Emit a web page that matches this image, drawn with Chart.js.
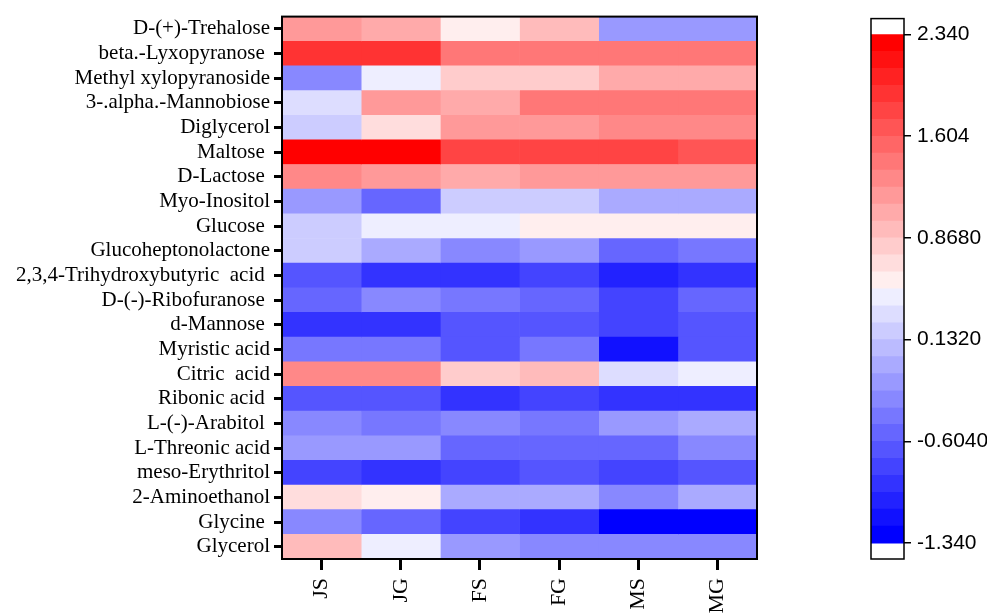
<!DOCTYPE html>
<html>
<head>
<meta charset="utf-8">
<script src="https://cdn.jsdelivr.net/npm/chart.js@4.4.1/dist/chart.umd.min.js"></script>
<style>
  body { margin: 0; background: #fff; }
  #wrap { position: relative; width: 987px; height: 613px; }
  #main { position: absolute; left: 0; top: 0; width: 987px; height: 613px; }
  #bar { position: absolute; left: 860px; top: 0; width: 127px; height: 613px; }
</style>
</head>
<body>
<div id="wrap">
  <div id="main"><canvas id="heat"></canvas></div>
  <div id="bar"><canvas id="scale"></canvas></div>
</div>
<script>
// row names (top to bottom) and sample columns
const rows = [
  "D-(+)-Trehalose", "beta.-Lyxopyranose ", "Methyl xylopyranoside", "3-.alpha.-Mannobiose",
  "Diglycerol", "Maltose ", "D-Lactose ", "Myo-Inositol", "Glucose ", "Glucoheptonolactone",
  "2,3,4-Trihydroxybutyric  acid ", "D-(-)-Ribofuranose ", "d-Mannose ", "Myristic acid",
  "Citric  acid", "Ribonic acid ", "L-(-)-Arabitol ", "L-Threonic acid", "meso-Erythritol",
  "2-Aminoethanol", "Glycine ", "Glycerol"
];
const columns = ["JS", "JG", "FS", "FG", "MS", "MG"];

// values per column, same order as rows
const JS = [1.18, 1.91, -0.30, 0.32, 0.19, 2.28, 1.30, -0.17, 0.19, 0.19, -0.66, -0.54, -0.91, -0.42, 1.30, -0.66, -0.30, -0.17, -0.79, 0.68, -0.30, 0.93];
const JG = [1.05, 1.91, 0.44, 1.18, 0.68, 2.28, 1.18, -0.54, 0.44, -0.05, -0.91, -0.30, -0.91, -0.42, 1.30, -0.66, -0.42, -0.17, -0.91, 0.56, -0.54, 0.44];
const FS = [0.56, 1.42, 0.81, 1.05, 1.18, 1.79, 1.05, 0.19, 0.44, -0.30, -0.91, -0.42, -0.66, -0.66, 0.81, -0.91, -0.30, -0.54, -0.79, -0.05, -0.79, -0.17];
const FG = [0.93, 1.42, 0.81, 1.42, 1.18, 1.79, 1.18, 0.19, 0.56, -0.17, -0.79, -0.54, -0.66, -0.42, 0.93, -0.79, -0.42, -0.54, -0.66, -0.05, -0.91, -0.30];
const MS = [-0.17, 1.42, 1.05, 1.42, 1.30, 1.79, 1.18, -0.05, 0.56, -0.54, -1.03, -0.79, -0.79, -1.16, 0.32, -0.91, -0.17, -0.54, -0.79, -0.30, -1.28, -0.30];
const MG = [-0.17, 1.42, 1.05, 1.42, 1.30, 1.67, 1.18, -0.05, 0.56, -0.42, -0.91, -0.54, -0.66, -0.66, 0.44, -0.91, -0.05, -0.30, -0.66, -0.05, -1.28, -0.30];
const series = [JS, JG, FS, FG, MS, MG];

// colour scale
const cbMin = -1.34;
const cbMax = 2.34;
const cbTicks = [-1.34, -0.604, 0.132, 0.868, 1.604, 2.34];
const cbTickLabels = ["-1.340", "-0.6040", "0.1320", "0.8680", "1.604", "2.340"];
const nBands = 30;

const step = (cbMax - cbMin) / nBands;
const mid = (cbMax + cbMin) / 2;

function colorFor(v) {
  let k = Math.floor(Math.abs(v - mid) / step);
  if (k > 14) k = 14;
  const L = 238 - 17 * k;
  if (v >= mid) return "rgb(255," + L + "," + L + ")";
  return "rgb(" + L + "," + L + ",255)";
}

const boxBorder = {
  id: "boxBorder",
  afterDraw(chart, args, opts) {
    const a = chart.chartArea;
    const ctx = chart.ctx;
    ctx.save();
    ctx.strokeStyle = "#000";
    ctx.lineWidth = opts.width || 2;
    ctx.strokeRect(a.left, a.top, a.right - a.left, a.bottom - a.top);
    ctx.restore();
  }
};

const serif = "'Liberation Serif', 'Times New Roman', serif";

const heatSets = series.map((vals, c) => ({
  label: columns[c],
  data: vals.map(() => [c, c + 1]),
  backgroundColor: vals.map(colorFor),
  borderWidth: 0,
  borderSkipped: false,
  barPercentage: 1,
  categoryPercentage: 1,
  grouped: false
}));

new Chart(document.getElementById("heat"), {
  type: "bar",
  data: { labels: rows, datasets: heatSets },
  options: {
    indexAxis: "y",
    responsive: true,
    maintainAspectRatio: false,
    animation: false,
    layout: { padding: { top: 16, right: 230, bottom: 0, left: 0 } },
    plugins: { legend: { display: false }, tooltip: { enabled: false }, boxBorder: { width: 2 } },
    scales: {
      x: {
        type: "linear",
        min: 0,
        max: columns.length,
        afterBuildTicks: (scale) => {
          scale.ticks = columns.map((c, i) => ({ value: i + 0.5 }));
        },
        afterFit: (scale) => { scale.height = 54; },
        border: { display: false },
        grid: { drawOnChartArea: false, tickLength: 11, lineWidth: 3, color: "#000" },
        ticks: {
          autoSkip: false,
          minRotation: 90,
          maxRotation: 90,
          padding: 8,
          color: "#000",
          font: { family: serif, size: 22 },
          callback: (v, i) => columns[i]
        }
      },
      y: {
        afterFit: (scale) => { scale.width = 282; },
        border: { display: false },
        grid: { drawOnChartArea: false, offset: false, tickLength: 8, lineWidth: 3, color: "#000" },
        ticks: {
          autoSkip: false,
          padding: 4,
          color: "#000",
          font: { family: serif, size: 21 }
        }
      }
    }
  },
  plugins: [boxBorder]
});

// colour bar bands
const bandSets = [];
for (let i = 0; i < nBands; i++) {
  const lo = cbMin + i * step;
  bandSets.push({
    data: [[lo, lo + step]],
    backgroundColor: colorFor(lo + step / 2),
    borderWidth: 0,
    borderSkipped: false,
    barPercentage: 1,
    categoryPercentage: 1,
    grouped: false
  });
}

new Chart(document.getElementById("scale"), {
  type: "bar",
  data: { labels: [""], datasets: bandSets },
  options: {
    responsive: true,
    maintainAspectRatio: false,
    animation: false,
    layout: { padding: { top: 16, right: 0, bottom: 54, left: 11 } },
    plugins: { legend: { display: false }, tooltip: { enabled: false }, boxBorder: { width: 1.5 } },
    scales: {
      x: { display: false },
      y: {
        position: "right",
        min: cbMin - 0.115,
        max: cbMax + 0.115,
        afterBuildTicks: (scale) => {
          scale.ticks = cbTicks.map((v) => ({ value: v }));
        },
        afterFit: (scale) => { scale.width = 83; },
        border: { display: false },
        grid: { drawOnChartArea: false, tickLength: 7, lineWidth: 1.5, color: "#000" },
        ticks: {
          autoSkip: false,
          padding: 6,
          color: "#000",
          font: { family: "'Liberation Sans', Arial, sans-serif", size: 21 },
          callback: (v, i) => cbTickLabels[i]
        }
      }
    }
  },
  plugins: [boxBorder]
});
</script>
</body>
</html>
